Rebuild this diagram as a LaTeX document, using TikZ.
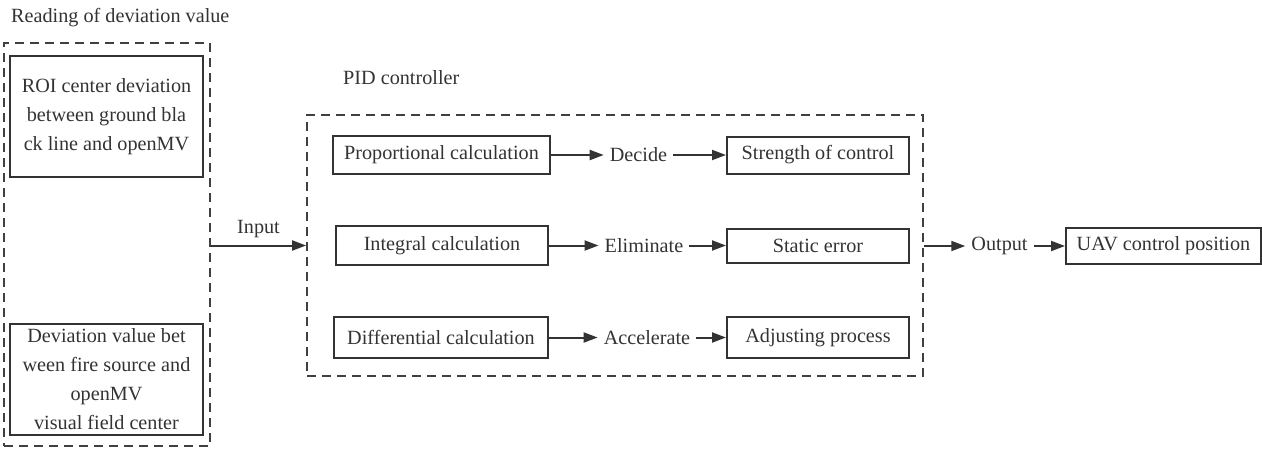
\documentclass[tikz,border=0pt]{standalone}
\usepackage{fontspec}
\setmainfont{Liberation Serif}
\usetikzlibrary{calc,positioning,arrows.meta}

\begin{document}
\begin{tikzpicture}[
    x=1pt, y=-1pt,
    every node/.style={font=\fontsize{20.2}{29}\selectfont, text=black!80},
    group/.style={rectangle, draw=black!75, line width=1.8pt, dash pattern=on 9pt off 6pt, inner sep=0pt},
    calcbox/.style={rectangle, draw=black!80, line width=2pt, align=center, inner sep=0pt},
    arrow/.style={-{Triangle[length=14pt,width=10pt]}, line width=2pt, black!80},
    grouplabel/.style={anchor=west, inner sep=0pt},
    action/.style={inner sep=6pt},
]
\useasboundingbox (0,0) rectangle (1262,448);

% Reading of deviation value
\node[group, minimum width=206, minimum height=403] (readbox) at (107,244.5) {};
\node[grouplabel] (readlabel) at (11,18) {Reading of deviation value};
\node[calcbox, minimum width=193, minimum height=121] (roi) at (106.5,116.5)
    {ROI center deviation\\ between ground bla\\ck line and openMV};
\node[calcbox, minimum width=193, minimum height=111] (fire) at (106.5,379.5)
    {Deviation value bet\\ween fire source and\\openMV\\visual field center};

% PID controller
\node[group, minimum width=616, minimum height=261] (pidbox) at (615,245.5) {};
\node[grouplabel] (pidlabel) at (343,78) {PID controller};

\node[calcbox, minimum width=217, minimum height=38] (pcalc) at (441.5,155) {Proportional calculation};
\node[calcbox, minimum width=212, minimum height=39] (icalc) at (442,245.5) {Integral calculation};
\node[calcbox, minimum width=214, minimum height=41] (dcalc) at (441,337.5) {Differential calculation};

\node[action] (decide) at (638.5,155) {Decide};
\node[action] (eliminate) at (644,245.5) {Eliminate};
\node[action] (accelerate) at (647,337.5) {Accelerate};

\node[calcbox, minimum width=182, minimum height=37] (strength) at (818,155) {Strength of control};
\node[calcbox, minimum width=182, minimum height=34] (static) at (818,245.5) {Static error};
\node[calcbox, minimum width=182, minimum height=41] (adjust) at (818,337.5) {Adjusting process};

% Output
\node[action] (output) at (999.5,246) {Output};
\node[calcbox, minimum width=195, minimum height=36] (uav) at (1163.5,246) {UAV control position};

% Arrows
\draw[arrow] (readbox.east |- icalc) -- (pidbox.west |- icalc)
    node[midway, above, yshift=3pt] {Input};
\draw[arrow] (pcalc.east) -- (decide.west);
\draw[arrow] (decide.east) -- (strength.west);
\draw[arrow] (icalc.east) -- (eliminate.west);
\draw[arrow] (eliminate.east) -- (static.west);
\draw[arrow] (dcalc.east) -- (accelerate.west);
\draw[arrow] (accelerate.east) -- (adjust.west);
\draw[arrow] (pidbox.east |- output) -- (output.west);
\draw[arrow] (output.east) -- (uav.west);

\end{tikzpicture}
\end{document}
